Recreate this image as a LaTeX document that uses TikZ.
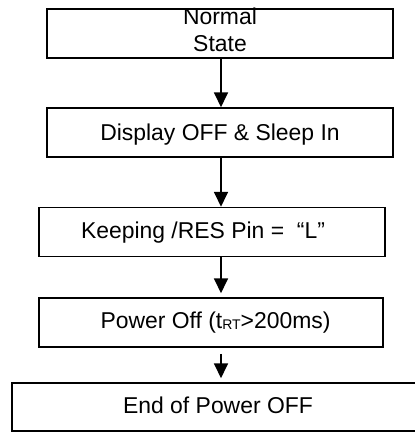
\documentclass[tikz,border=0pt]{standalone}
\usepackage{fontspec}
\setmainfont{Liberation Sans}
\usetikzlibrary{arrows.meta}
\begin{document}
\begin{tikzpicture}[x=1bp,y=-1bp,
  box/.style={draw, line width=1.5bp, inner sep=0pt, minimum height=49bp},
  txt/.style={inner sep=0pt, font=\fontsize{23}{27}\selectfont},
  arr/.style={line width=1.8bp, -{Triangle[width=14bp,length=15bp]}}]
\useasboundingbox (0,0) rectangle (415,432);
\node[box, minimum width=346bp] (b1) at (220,33.5) {};
\node[box, minimum width=346bp] (b2) at (220,132.5) {};
\node[box, minimum width=346bp] (b3) at (212,232) {};
\node[box, minimum width=344bp] (b4) at (211,322.5) {};
\node[box, minimum width=406bp, minimum height=48bp] (b5) at (215,407) {};
\node[txt, align=center] (t1) at (220,30) {Normal\\State};
\node[txt, anchor=base] (t2) at (220,140) {Display OFF \& Sleep In};
\node[txt, anchor=base] (t3) at (203,238) {Keeping /RES Pin = \ “L”};
\node[txt, anchor=base] (t4) at (215.5,328) {Power Off (t\raisebox{-1bp}{\fontsize{14}{14}\selectfont RT}>200ms)};
\node[txt, anchor=base] (t5) at (218,413) {End of Power OFF};
\draw[arr] (b1.south -| 221,0) -- (b2.north -| 221,0);
\draw[arr] (b2.south -| 221,0) -- (b3.north -| 221,0);
\draw[arr, shorten >=4bp] (b3.south -| 221,0) -- (b4.north -| 221,0);
\draw[arr, shorten <=6bp, shorten >=4bp] (b4.south -| 221,0) -- (b5.north -| 221,0);
\end{tikzpicture}
\end{document}
